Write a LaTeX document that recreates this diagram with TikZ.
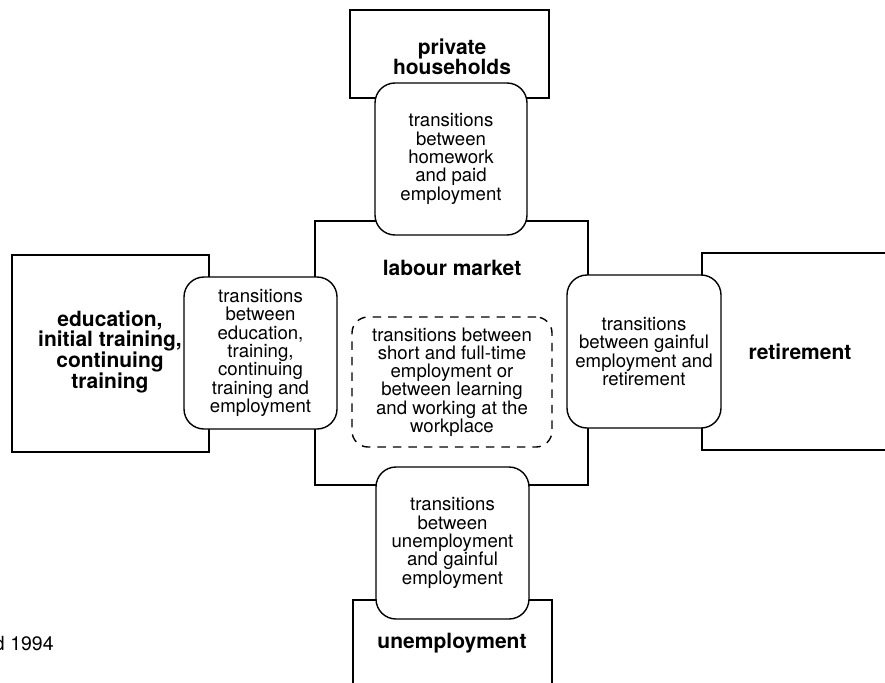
\documentclass[tikz,border=0pt]{standalone}
\usepackage{fontspec}
\setmainfont{TeX Gyre Heros}
\begin{document}
\begin{tikzpicture}[x=1pt,y=-1pt,
  every node/.style={inner sep=0pt, outer sep=0pt},
  area/.style={draw, line width=1.4pt, rectangle, fill=white},
  areatext/.style={font=\fontsize{21}{20}\selectfont\bfseries, align=center},
  trans/.style={draw, line width=1.4pt, fill=white, rounded corners=20pt,
    align=center, font=\fontsize{18.6}{18.3}\selectfont},
  inner/.style={draw, line width=1.4pt, dash pattern=on 8.5pt off 7pt,
    rounded corners=16pt, align=center, font=\fontsize{18.6}{18.3}\selectfont},
  note/.style={font=\fontsize{19.5}{20}\selectfont}]

\useasboundingbox (0,0) rectangle (885,682);
\clip (0,0) rectangle (885,682);

% the surrounding fields
\node[area, minimum width=273pt, minimum height=264pt] (lm) at (451.5,353) {};
\node[area, minimum width=199pt, minimum height=88pt] (ph) at (449.5,54) {};
\node[area, minimum width=197pt, minimum height=197pt] (edu) at (110.5,353.5) {};
\node[area, minimum width=196pt, minimum height=197pt] (ret) at (800,351.5) {};
\node[area, minimum width=199pt, minimum height=88pt] (une) at (452.5,644) {};

% field labels
\node[areatext] (lmtext) at (452,268) {labour market};
\node[areatext] (phtext) at (452,57) {private\\households};
\node[areatext] (edutext) at (110,352) {education,\\initial training,\\continuing\\training};
\node[areatext] (rettext) at (800,352) {retirement};
\node[areatext] (unetext) at (452,643) {unemployment};

% transitions between the fields
\node[trans, minimum width=152pt, minimum height=152pt] (tph) at (451,159)
  {transitions\\between\\homework\\and paid\\employment};
\node[trans, minimum width=153pt, minimum height=152pt] (tedu) at (260.5,353)
  {transitions\\between\\education,\\training,\\continuing\\training and\\employment};
\node[trans, minimum width=154pt, minimum height=153pt] (tret) at (644,351.5)
  {transitions\\between gainful\\employment and\\retirement};
\node[trans, minimum width=153pt, minimum height=152pt] (tune) at (452.5,543)
  {transitions\\between\\unemployment\\and gainful\\employment};

% transitions inside the labour market
\node[inner, minimum width=200pt, minimum height=130pt] (tin) at (452,382)
  {transitions between\\short and full-time\\employment or\\between learning\\and working at the\\workplace};

% source line
\node[note, anchor=base west] (src) at (-6,650) {d 1994};
\end{tikzpicture}
\end{document}
